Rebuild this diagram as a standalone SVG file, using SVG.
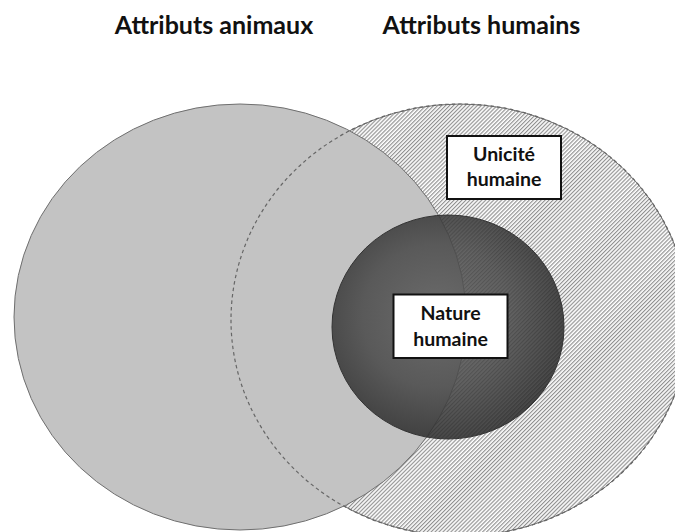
<svg xmlns="http://www.w3.org/2000/svg" width="675" height="532" viewBox="0 0 675 532">
  <defs>
    <pattern id="hatch" width="2.8" height="2.8" patternUnits="userSpaceOnUse" patternTransform="rotate(45)">
      <rect width="2.8" height="2.8" fill="#ffffff"/>
      <line x1="0.6" y1="0" x2="0.6" y2="2.8" stroke="#8a8a8a" stroke-width="1.1"/>
    </pattern>
    <radialGradient id="dark" cx="0.45" cy="0.45" r="0.58">
      <stop offset="0" stop-color="#5c5c5c"/>
      <stop offset="0.55" stop-color="#474747"/>
      <stop offset="1" stop-color="#262626"/>
    </radialGradient>
  </defs>
  <style>
    .title { font-family: Lato, "Liberation Sans", "DejaVu Sans", sans-serif; font-weight: bold; font-size: 25px; fill: #111; text-anchor: middle; }
    .label { font-family: Lato, "Liberation Sans", "DejaVu Sans", sans-serif; font-weight: bold; font-size: 19.5px; fill: #111; text-anchor: middle; }
    .box { fill: #ffffff; stroke: #111; stroke-width: 2; }
  </style>
  <rect width="675" height="532" fill="#ffffff"/>

  <g id="titles">
    <text class="title" x="214" y="34">Attributs animaux</text>
    <text class="title" x="481.5" y="34">Attributs humains</text>
  </g>

  <g id="human-attributes">
    <ellipse cx="460" cy="320" rx="229" ry="216" fill="url(#hatch)" stroke="#6f6f6f" stroke-width="1"/>
  </g>

  <g id="animal-attributes">
    <ellipse cx="240" cy="317" rx="226" ry="213" fill="#c3c3c3" stroke="#6f6f6f" stroke-width="1"/>
  </g>

  <g id="connectors">
    <ellipse cx="460" cy="320" rx="229" ry="216" fill="none" stroke="#666" stroke-width="1.2" stroke-dasharray="3.5 3"/>
  </g>

  <g id="human-nature">
    <ellipse cx="448" cy="327" rx="116" ry="112" fill="url(#dark)" fill-opacity="0.85" stroke="#333" stroke-width="1"/>
  </g>

  <g id="unicite-humaine">
    <rect class="box" x="447" y="136" width="114" height="63"/>
    <text class="label" x="504" y="161">Unicité</text>
    <text class="label" x="504" y="186">humaine</text>
  </g>

  <g id="nature-humaine">
    <rect class="box" x="393.5" y="294.5" width="114" height="63.5"/>
    <text class="label" x="450.5" y="320">Nature</text>
    <text class="label" x="450.5" y="345.5">humaine</text>
  </g>
</svg>
